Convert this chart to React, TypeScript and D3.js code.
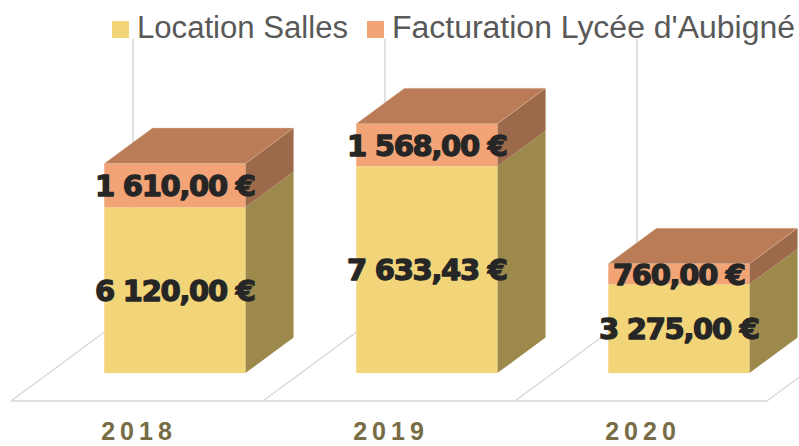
import React from "react";
import * as d3 from "d3";

const years = ["2018", "2019", "2020"];
const locationSalles = [6120, 7633.43, 3275];
const facturationLycee = [1610, 1568, 760];
const seriesNames = ["Location Salles", "Facturation Lycée d'Aubigné"];
const seriesColors = [
  { front: "#F2D479", side: "#9C894B", top: "#C9B062" },
  { front: "#F2A476", side: "#9C6A4A", top: "#B97C57" },
];

const W = 799;
const H = 446;

// geometry of the oblique 3D projection
const floorY = 401;
const floorX0 = 11;
const floorX1 = 767;
const depthDX = 122;
const depthDY = -90;
const wallTop = 39;
const t0 = 0.31;
const t1 = 0.705;

const fr = d3.formatLocale({
  decimal: ",",
  thousands: "\u00a0",
  grouping: [3],
  currency: ["", "\u00a0€"],
});
const fmt = fr.format("$,.2f");

function proj(x: number, t: number, h: number): [number, number] {
  return [x + depthDX * t, floorY + depthDY * t - h];
}
function pts(arr: [number, number][]) {
  return arr.map((p) => p.join(",")).join(" ");
}

export default function App() {
  const x = d3.scaleBand<string>().domain(years).range([floorX0, floorX1]).padding(0);
  const bw = x.bandwidth();
  const barW = bw * 0.56;
  const h = d3.scaleLinear().domain([0, 10000]).range([0, 271]);

  const stacked = years.map((yr, i) => {
    const vals = [locationSalles[i], facturationLycee[i]];
    let acc = 0;
    return vals.map((v, s) => {
      const seg = { s, v, lo: acc, hi: acc + v };
      acc += v;
      return seg;
    });
  });

  const gridXs = d3.range(years.length + 1).map((i) => floorX0 + i * bw);

  return (
    <svg width={W} height={H} style={{ display: "block", position: "absolute", left: 0, top: 0 }}>
      <rect x={0} y={0} width={W} height={H} fill="#fff" />
      {/* back wall vertical gridlines */}
      {gridXs.map((gx, i) => {
        const [bx, by] = proj(gx, 1, 0);
        return <line key={"v" + i} x1={bx} y1={by} x2={bx} y2={wallTop} stroke="#D9D9D9" strokeWidth={1.5} />;
      })}
      {/* floor diagonals */}
      {gridXs.map((gx, i) => {
        const [bx, by] = proj(gx, 1, 0);
        return <line key={"d" + i} x1={gx} y1={floorY} x2={bx} y2={by} stroke="#D9D9D9" strokeWidth={1.5} />;
      })}
      <line x1={floorX0} y1={floorY} x2={floorX1} y2={floorY} stroke="#D9D9D9" strokeWidth={1.5} />

      {/* bars */}
      {years.map((yr, i) => {
        const xl = (x(yr) as number) + (bw - barW) / 2;
        const xr = xl + barW;
        const segs = stacked[i];
        return (
          <g key={yr}>
            {segs.map((sg, k) => {
              const c = seriesColors[sg.s];
              const yl = h(sg.lo);
              const yh = h(sg.hi);
              const front = [proj(xl, t0, yl), proj(xr, t0, yl), proj(xr, t0, yh), proj(xl, t0, yh)];
              const side = [proj(xr, t0, yl), proj(xr, t1, yl), proj(xr, t1, yh), proj(xr, t0, yh)];
              const top = [proj(xl, t0, yh), proj(xr, t0, yh), proj(xr, t1, yh), proj(xl, t1, yh)];
              return (
                <g key={k}>
                  <polygon points={pts(side)} fill={c.side} />
                  <polygon points={pts(front)} fill={c.front} />
                  {k === segs.length - 1 && (
                    <polygon points={pts(top)} fill={c.top} stroke="#E9C6AE" strokeWidth={0.6} strokeOpacity={0.6} />
                  )}
                </g>
              );
            })}
          </g>
        );
      })}

      {/* value labels */}
      {years.map((yr, i) => {
        const xl = (x(yr) as number) + (bw - barW) / 2;
        const cx = proj(xl + barW / 2, t0, 0)[0];
        return stacked[i].map((sg, k) => {
          const cy = proj(0, t0, h((sg.lo + sg.hi) / 2))[1];
          return (
            <text
              key={yr + k}
              x={cx}
              y={cy}
              dy="0.37em"
              textAnchor="middle"
              fontFamily="'DejaVu Sans', sans-serif"
              fontWeight="bold"
              fontSize={29}
              letterSpacing={-1.3}
              fill="#262626"
              stroke="#262626"
              strokeWidth={1.3}
              strokeLinejoin="round"
            >
              {fmt(sg.v)}
            </text>
          );
        });
      })}

      {/* category labels */}
      {years.map((yr) => (
        <text
          key={"c" + yr}
          x={(x(yr) as number) + bw / 2 + 2}
          y={440}
          textAnchor="middle"
          fontFamily="'Liberation Sans', Arial, sans-serif"
          fontWeight="bold"
          fontSize={25}
          letterSpacing={5}
          fill="#776C45"
        >
          {yr}
        </text>
      ))}

      {/* legend */}
      <rect x={112} y={21} width={17} height={17} fill={seriesColors[0].front} />
      <text x={137} y={38} fontFamily="'Liberation Sans', Arial, sans-serif" fontSize={31} fill="#595959" textLength={211} lengthAdjust="spacingAndGlyphs">
        {seriesNames[0]}
      </text>
      <rect x={367} y={21} width={17} height={17} fill={seriesColors[1].front} />
      <text x={392} y={38} fontFamily="'Liberation Sans', Arial, sans-serif" fontSize={31} fill="#595959" textLength={403} lengthAdjust="spacingAndGlyphs">
        {seriesNames[1]}
      </text>
    </svg>
  );
}
